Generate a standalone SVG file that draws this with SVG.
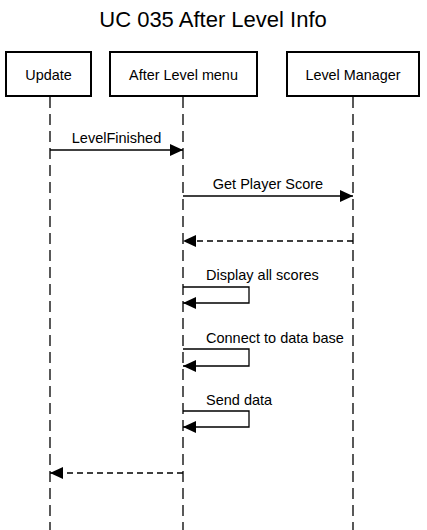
<svg xmlns="http://www.w3.org/2000/svg" width="427" height="530" viewBox="0 0 427 530">
<style>
text{font-family:"Liberation Sans",Arial,sans-serif;fill:#000}
.box{fill:#fff;stroke:#000;stroke-width:2}
.life{stroke:#000;stroke-width:1.3;stroke-dasharray:11 6;fill:none}
.msg{stroke:#000;stroke-width:1.3;fill:none}
.ret{stroke:#000;stroke-width:1.3;fill:none;stroke-dasharray:6 4}
.lbl{font-size:14.5px}
.nm{font-size:14.4px;text-anchor:middle}
</style>
<defs>
<marker id="ah" markerWidth="13" markerHeight="12" refX="13" refY="6" orient="auto" markerUnits="userSpaceOnUse">
<path d="M0,0 L13,6 L0,12 Z" fill="#000"/>
</marker>
</defs>
<text x="213" y="27" font-size="22" text-anchor="middle">UC 035 After Level Info</text>
<g id="lifelines">
<line class="life" x1="50" y1="97" x2="50" y2="530"/>
<line class="life" x1="183" y1="97" x2="183" y2="530"/>
<line class="life" x1="353" y1="97" x2="353" y2="530"/>
</g>
<g id="update"><rect class="box" x="6" y="52" width="85" height="44"/><text class="nm" x="48.5" y="80">Update</text></g>
<g id="afterLevelMenu"><rect class="box" x="110" y="52" width="147" height="44"/><text class="nm" x="183.5" y="80">After Level menu</text></g>
<g id="levelManager"><rect class="box" x="287" y="52" width="132" height="44"/><text class="nm" x="353" y="80">Level Manager</text></g>
<g id="connectors">
<line class="msg" x1="50" y1="150" x2="183" y2="150" marker-end="url(#ah)"/>
<text class="lbl" x="116.5" y="143" text-anchor="middle">LevelFinished</text>
<line class="msg" x1="183" y1="196" x2="353" y2="196" marker-end="url(#ah)"/>
<text class="lbl" x="268" y="189" text-anchor="middle">Get Player Score</text>
<line class="ret" x1="353" y1="241" x2="183" y2="241" marker-end="url(#ah)"/>
<polyline class="msg" points="183,287 249,287 249,303 183,303" marker-end="url(#ah)"/>
<text class="lbl" x="206" y="280">Display all scores</text>
<polyline class="msg" points="183,349 249,349 249,366 183,366" marker-end="url(#ah)"/>
<text class="lbl" x="206" y="343">Connect to data base</text>
<polyline class="msg" points="183,411 249,411 249,427 183,427" marker-end="url(#ah)"/>
<text class="lbl" x="206" y="405">Send data</text>
<polyline class="ret" points="183,473 50,473" marker-end="url(#ah)"/>
</g>
</svg>
